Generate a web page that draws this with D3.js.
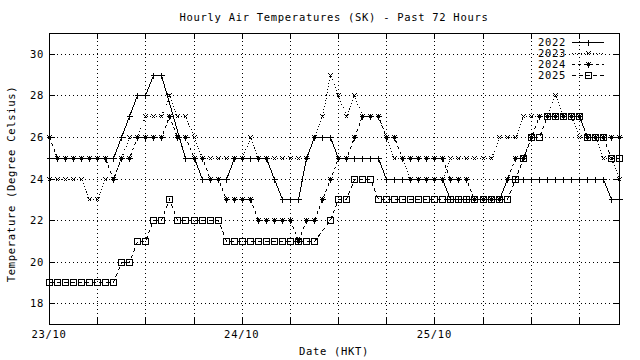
<!DOCTYPE html>
<html><head><meta charset="utf-8">
<script src="https://cdn.jsdelivr.net/npm/d3@7"></script>
<style>
body{margin:0;background:#fff;}
svg{display:block;}
text{font-family:"DejaVu Sans Mono","Liberation Mono",monospace;font-size:10.5px;letter-spacing:0.7px;fill:#000;}
</style></head><body>
<svg id="c" width="640" height="360"></svg>
<script>
// hours since 23/10 00:00 (HKT)
const hours = d3.range(0, 72);
const dayTickHours = [0, 24, 48];
const dayTickLabels = ["23/10", "24/10", "25/10"];
const gridHours = [0, 6, 12, 18, 24, 30, 36, 42, 48, 54, 60, 66];
const yTicks = [18, 20, 22, 24, 26, 28, 30];
const seriesNames = ["2022", "2023", "2024", "2025"];

const t2022 = [25,25,25,25,25,25,25,25,25, 26,27,28,28,29,29, null,null, 25,25, 24,24,24,24,
  25,25,25,25,25, 24, 23,23,23, 25, 26,26,26, 25,25,25,25,25,25, 24,24,24,24,24,24,24,24,
  23,23,23,23,23,23,23, 24,24,24,24,24,24,24,24,24,24,24,24,24, 23,23];
const t2023 = [24,24,24,24,24, 23,23, 24,24, 25, 26, 26, 27,27,27, 28, 27,27, 26,
  25,25,25,25,25,25, 26, 25,25,25,25,25,25,25, 26, 27, 29, 28, 27, 28, 27,27,27, 26, 25, 25,
  24,24,24,24,24, 25,25,25,25,25,25, 26,26,26, 27,27,27,27, 28, 27,27, 26,26,26, 25,25, 24];
const t2024 = [26, 25,25,25,25,25,25,25, 24, 25,25, 26,26,26,26, 27, 26,26, 25,25, 24,24,
  23,23,23,23, 22,22,22,22,22, 21, 22,22, 23, 24, 25,25, 26, 27,27,27, 26,26,
  25,25,25,25,25,25, 24,24,24, 23,23,23,23, 24, 25,25, 26, 27,27,27,27,27,27, 26,26,26,26,26];
const t2025 = [19,19,19,19,19,19,19,19,19, 20,20, 21,21, 22,22, 23, 22,22,22,22,22,22,
  21,21,21,21,21,21,21,21,21,21,21,21, null, 22, 23,23, 24,24,24,
  23,23,23,23,23,23,23,23,23,23,23,23,23,23,23,23,23, 24, 25, 26,26, 27,27,27,27,27, 26,26,26, 25,25];

const svg = d3.select("#c").attr("shape-rendering", "crispEdges");
const L = 49, R = 619, T = 33, B = 324;
const x = d3.scaleLinear().domain([0, 71]).range([L, R]);
const y = d3.scaleLinear().domain([17, 31]).range([B, T]);
const px = v => Math.round(x(v)) + 0.5;
const py = v => Math.round(y(v)) + 0.5;

// grid
const g = svg.append("g").attr("stroke", "#000").attr("stroke-width", 1).attr("stroke-dasharray", "1,3").attr("fill", "none");
gridHours.filter(h => h > 0).forEach(h => g.append("line").attr("x1", px(h)).attr("x2", px(h)).attr("y1", T).attr("y2", B));
yTicks.forEach(v => g.append("line").attr("x1", L).attr("x2", R).attr("y1", py(v)).attr("y2", py(v)));

// border
svg.append("rect").attr("x", L + 0.5).attr("y", T + 0.5).attr("width", R - L).attr("height", B - T)
  .attr("fill", "none").attr("stroke", "#000");

// ticks
const tk = svg.append("g").attr("stroke", "#000");
gridHours.forEach(h => {
  tk.append("line").attr("x1", px(h)).attr("x2", px(h)).attr("y1", B).attr("y2", B - 6);
  tk.append("line").attr("x1", px(h)).attr("x2", px(h)).attr("y1", T).attr("y2", T + 6);
});
yTicks.forEach(v => {
  tk.append("line").attr("x1", L).attr("x2", L + 6).attr("y1", py(v)).attr("y2", py(v));
  tk.append("line").attr("x1", R - 6).attr("x2", R).attr("y1", py(v)).attr("y2", py(v));
});

// tick labels
yTicks.forEach(v => svg.append("text").attr("x", 44).attr("y", y(v) + 4).attr("text-anchor", "end").text(v));
dayTickHours.forEach((h, i) => svg.append("text").attr("x", x(h)).attr("y", 338).attr("text-anchor", "middle").text(dayTickLabels[i]));

// titles
svg.append("text").attr("x", 334).attr("y", 21).attr("text-anchor", "middle").text("Hourly Air Temperatures (SK) - Past 72 Hours");
svg.append("text").attr("x", 334).attr("y", 355).attr("text-anchor", "middle").text("Date (HKT)");
svg.append("text").attr("transform", "translate(15,184) rotate(-90)").attr("text-anchor", "middle").text("Temperature (Degree Celsius)");

// markers
const mk = {
  plus: (cx, cy) => `M${cx-3},${cy}H${cx+3}M${cx},${cy-3}V${cy+3}`,
  cross: (cx, cy) => `M${cx-2},${cy-2}L${cx+2},${cy+2}M${cx-2},${cy+2}L${cx+2},${cy-2}`,
  star: (cx, cy) => `M${cx-3},${cy}H${cx+3}M${cx},${cy-3}V${cy+3}M${cx-2},${cy-2}L${cx+2},${cy+2}M${cx-2},${cy+2}L${cx+2},${cy-2}`,
  square: (cx, cy) => `M${cx-3},${cy-3}H${cx+3}V${cy+3}H${cx-3}Z`
};
const styles = [
  {data: t2022, dash: null, marker: "plus"},
  {data: t2023, dash: "1,2", marker: "cross"},
  {data: t2024, dash: "3,3", marker: "star"},
  {data: t2025, dash: "4,3", marker: "square"}
];
const line = d3.line().x(d => px(d[0])).y(d => py(d[1]));
const plot = svg.append("g");
styles.forEach(s => {
  const pts = hours.map((h, i) => [h, s.data[i]]).filter(d => d[1] !== null);
  plot.append("path").attr("d", line(pts)).attr("fill", "none").attr("stroke", "#000")
    .attr("stroke-width", 1).attr("stroke-dasharray", s.dash).attr("shape-rendering", "crispEdges");
  plot.append("path").attr("d", pts.map(d => mk[s.marker](px(d[0]), py(d[1]))).join(""))
    .attr("fill", "none").attr("stroke", "#000").attr("stroke-width", 1);
});

// legend
const ky = [42, 53, 64, 75];
seriesNames.forEach((n, i) => {
  const yy = ky[i] + 0.5;
  svg.append("text").attr("x", 566).attr("y", yy + 3.5).attr("text-anchor", "end").text(n);
  svg.append("line").attr("x1", 572).attr("x2", 604).attr("y1", yy).attr("y2", yy)
    .attr("stroke", "#000").attr("stroke-dasharray", styles[i].dash);
  svg.append("path").attr("d", mk[styles[i].marker](588.5, yy)).attr("fill", "none").attr("stroke", "#000");
});
</script>
</body></html>
